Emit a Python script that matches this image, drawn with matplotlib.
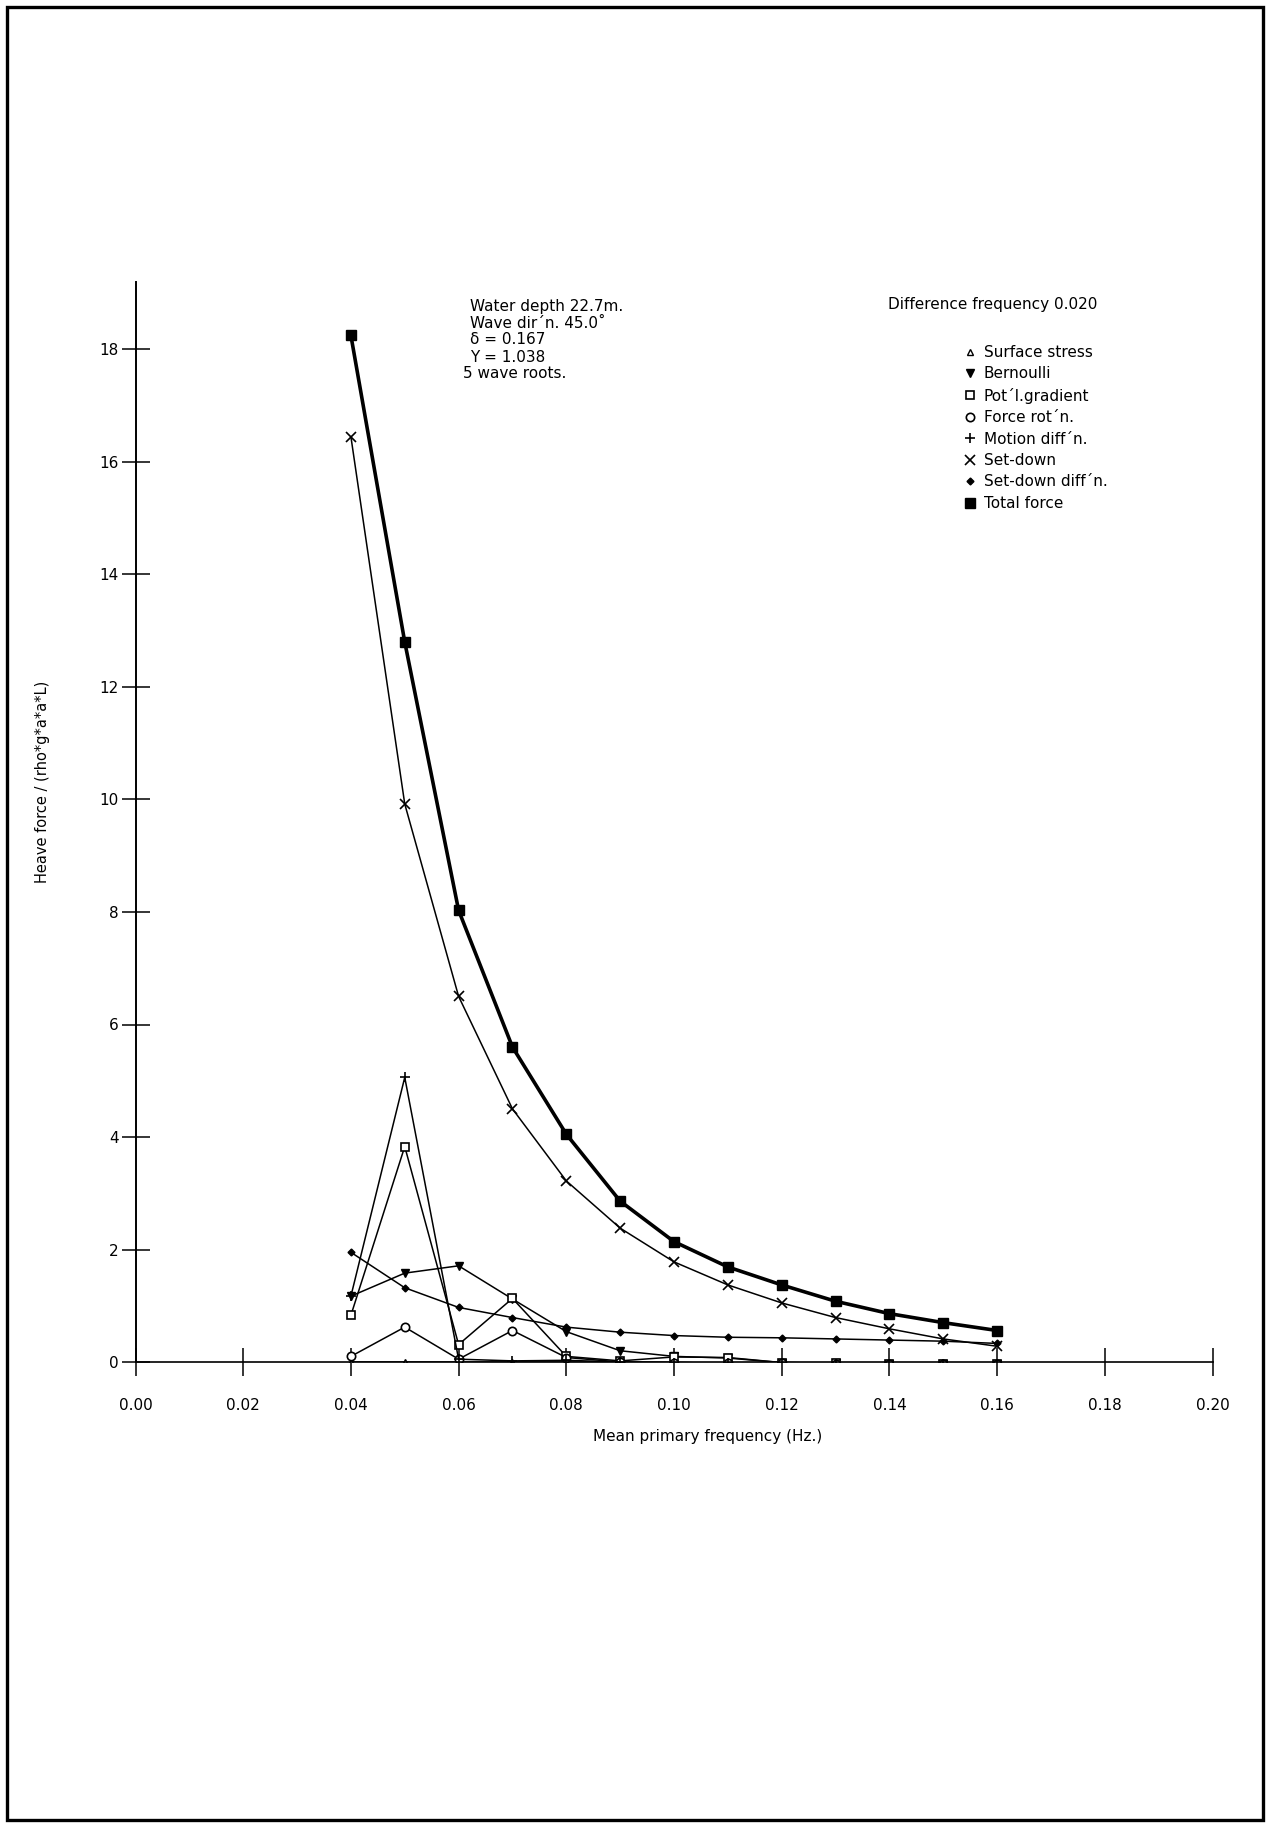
import matplotlib
matplotlib.use("Agg")
import matplotlib.pyplot as plt
from matplotlib.patches import Rectangle

plt.rcParams['font.family'] = ['DejaVu Sans']

# mean primary frequency (Hz)
freq = [0.04, 0.05, 0.06, 0.07, 0.08, 0.09, 0.10, 0.11, 0.12, 0.13, 0.14, 0.15, 0.16]

surface_stress = [0.0, 0.0, 0.0, 0.0, 0.0, -0.01, -0.01, -0.02, -0.02, -0.03, -0.03, -0.03, -0.03]
bernoulli = [1.17, 1.58, 1.71, 1.12, 0.54, 0.20, 0.10, 0.07, -0.01, -0.02, -0.03, -0.03, -0.03]
pot_gradient = [0.83, 3.83, 0.31, 1.13, 0.10, 0.02, 0.09, 0.08, -0.01, -0.02, -0.03, -0.03, -0.03]
force_rotn = [0.10, 0.62, 0.05, 0.56, 0.08, 0.0, -0.01, -0.02, -0.02, -0.03, -0.03, -0.03, -0.03]
motion_diff = [1.17, 5.06, 0.05, 0.02, 0.03, 0.0, -0.01, -0.02, -0.02, -0.03, -0.03, -0.03, -0.03]
set_down = [16.45, 9.92, 6.50, 4.50, 3.22, 2.38, 1.78, 1.37, 1.05, 0.79, 0.59, 0.41, 0.28]
set_down_diff = [1.95, 1.32, 0.97, 0.79, 0.62, 0.53, 0.47, 0.44, 0.43, 0.41, 0.39, 0.37, 0.33]
total_force = [18.25, 12.80, 8.03, 5.60, 4.05, 2.86, 2.14, 1.69, 1.37, 1.08, 0.86, 0.70, 0.56]

labels = ["Surface stress", "Bernoulli", "Pot\u00b4l.gradient", "Force rot\u00b4n.",
          "Motion diff\u00b4n.", "Set-down", "Set-down diff\u00b4n.", "Total force"]

info_lines = ["Water depth 22.7m.", "Wave dir\u00b4n. 45.0\u02da", "\u03b4 = 0.167", "Y = 1.038",
              "5 wave roots."]

W, H = 1270, 1827
fig = plt.figure(figsize=(W / 100, H / 100), dpi=100)

# page frame
fig.patches.append(Rectangle((7 / W, 7 / H), 1 - 14 / W, 1 - 14 / H, transform=fig.transFigure,
                             fill=False, edgecolor='black', linewidth=2.4))

ax = fig.add_axes([135.5 / W, (H - 1362) / H, 1077 / W, 1080 / H])
ax.set_xlim(0, 0.20)
ax.set_ylim(0, 19.2)
for s in ['top', 'right']:
    ax.spines[s].set_visible(False)
ax.spines['left'].set_linewidth(1.4)
ax.spines['bottom'].set_linewidth(1.2)

ax.set_xticks([0.00, 0.02, 0.04, 0.06, 0.08, 0.10, 0.12, 0.14, 0.16, 0.18, 0.20])
ax.set_xticklabels(['%.2f' % v for v in ax.get_xticks()])
ax.set_yticks(range(0, 19, 2))
ax.tick_params(axis='both', direction='inout', length=20, width=1.1, labelsize=11)
ax.tick_params(axis='x', pad=16)
ax.tick_params(axis='y', pad=2)

lw = 1.1
h = []
h += ax.plot(freq, surface_stress, color='black', lw=lw, marker='^', ms=5, mfc='white', mew=1)
h += ax.plot(freq, bernoulli, color='black', lw=lw, marker='v', ms=6, mfc='black', mew=1)
h += ax.plot(freq, pot_gradient, color='black', lw=lw, marker='s', ms=6, mfc='white', mew=1.2)
h += ax.plot(freq, force_rotn, color='black', lw=lw, marker='o', ms=6, mfc='white', mew=1.2)
h += ax.plot(freq, motion_diff, color='black', lw=lw, marker='+', ms=7, mew=1.2)
h += ax.plot(freq, set_down, color='black', lw=lw, marker='x', ms=7, mew=1.2)
h += ax.plot(freq, set_down_diff, color='black', lw=lw, marker='D', ms=3.5, mfc='black', mew=1)
h += ax.plot(freq, total_force, color='black', lw=2.6, marker='s', ms=7, mfc='black', mew=1)

ax.legend(h, labels, handlelength=0, handletextpad=0.9, frameon=False, fontsize=11,
          loc='upper left', bbox_to_anchor=(970 / W, 1 - 345 / H),
          bbox_transform=fig.transFigure, borderpad=0, borderaxespad=0, labelspacing=0.42,
          numpoints=1)

for i, line in enumerate(info_lines):
    x0 = 463 if i == len(info_lines) - 1 else 470
    fig.text(x0 / W, 1 - (306 + 17 * i) / H, line, fontsize=11, ha='left', va='center')
fig.text(888 / W, 1 - 305 / H, "Difference frequency 0.020", fontsize=11, ha='left', va='center')

fig.text(708 / W, 1 - 1437 / H, "Mean primary frequency (Hz.)", fontsize=11, ha='center', va='center')
fig.text(43 / W, 1 - 782 / H, "Heave force / (rho*g*a*a*L)", fontsize=10.5, rotation=90,
         ha='center', va='center')

fig.savefig("out.png", dpi=100)
